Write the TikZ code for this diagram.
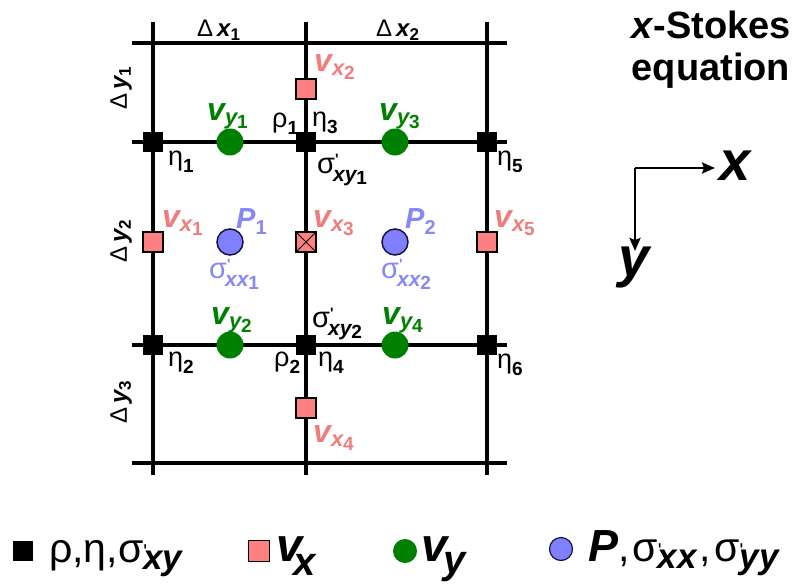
\documentclass[tikz,border=0pt]{standalone}
\usepackage{fontspec}
\setmainfont{Liberation Sans}
\usetikzlibrary{arrows.meta}
\definecolor{vxfill}{RGB}{255,128,128}
\definecolor{vxtext}{RGB}{240,125,125}
\definecolor{vygreen}{RGB}{0,128,0}
\definecolor{pfill}{RGB}{128,128,255}
\definecolor{ptext}{RGB}{135,135,245}
\definecolor{pedge}{RGB}{20,20,70}
\newcommand\vlab[2]{{\fontsize{32}{32}\selectfont\bfseries\itshape v\raisebox{-4pt}{\fontsize{22}{22}\selectfont #1\raisebox{-4pt}{\fontsize{19}{19}\selectfont\upshape #2}}}}
\newcommand\plab[1]{{\fontsize{29}{29}\selectfont\bfseries\itshape P\raisebox{-6pt}{\fontsize{20}{20}\selectfont\upshape #1}}}
\newcommand\glab[2]{{\fontsize{27}{27}\selectfont #1\raisebox{-7pt}{\fontsize{19}{19}\selectfont\bfseries #2}}}
\newcommand\slab[2]{{\fontsize{29}{29}\selectfont σ\rlap{\raisebox{9pt}{\fontsize{15}{15}\selectfont\bfseries \textquotesingle}}\hspace{-2pt}\raisebox{-8pt}{\fontsize{21}{21}\selectfont\bfseries\itshape #1\raisebox{-3pt}{\fontsize{19}{19}\selectfont\upshape #2}}}}
\newcommand\dlab[2]{{\fontsize{24}{24}\selectfont Δ\,\bfseries\itshape #1\raisebox{-4pt}{\fontsize{17}{17}\selectfont\upshape #2}}}
\newcommand\legprime{\rlap{\raisebox{4pt}{\fontsize{20}{20}\selectfont\textquotesingle}}}
\newcommand\legsub[1]{\raisebox{-7pt}{\fontsize{35}{35}\selectfont\bfseries\itshape #1}}
\tikzset{
  gridline/.style={line width=3.2pt},
  blk/.style={rectangle, fill=black, minimum size=20pt, inner sep=0pt},
  vxbox/.style={rectangle, fill=vxfill, draw=black, line width=1.2pt, minimum size=20pt, inner sep=0pt},
  vxcross/.style={vxbox, path picture={\draw[line width=1pt]
      (path picture bounding box.north west) -- (path picture bounding box.south east)
      (path picture bounding box.north east) -- (path picture bounding box.south west);}},
  vydot/.style={circle, fill=vygreen, minimum size=27pt, inner sep=0pt},
  pdot/.style={circle, fill=pfill, draw=pedge, line width=1.5pt, minimum size=26pt, inner sep=0pt},
  lbl/.style={inner sep=0pt, anchor=base west},
  vxl/.style={lbl, text=vxtext},
  vyl/.style={lbl, text=vygreen},
  pl/.style={lbl, text=ptext},
  kl/.style={lbl, text=black},
  axis/.style={line width=2.5pt, -{Stealth[length=13pt,width=11pt,inset=2pt]}},
}
\begin{document}
\begin{tikzpicture}[x=1pt,y=-1pt]
\useasboundingbox (0,0) rectangle (802,586);
% grid end points
\coordinate (c1t) at (153,22);  \coordinate (c1b) at (153,475);
\coordinate (c2t) at (306,22);  \coordinate (c2b) at (306,475);
\coordinate (c3t) at (487,22);  \coordinate (c3b) at (487,475);
\coordinate (r1l) at (132,43);  \coordinate (r1r) at (507,43);
\coordinate (r2l) at (132,142); \coordinate (r2r) at (507,142);
\coordinate (r3l) at (132,345); \coordinate (r3r) at (507,345);
\coordinate (r4l) at (132,463); \coordinate (r4r) at (507,463);
\draw[gridline] (c1t) -- (c1b) (c2t) -- (c2b) (c3t) -- (c3b);
\draw[gridline] (r1l) -- (r1r) (r2l) -- (r2r) (r3l) -- (r3r) (r4l) -- (r4r);
% black nodes
\node[blk] (n1) at (153,142) {};
\node[blk] (n3) at (306,142) {};
\node[blk] (n5) at (487,142) {};
\node[blk] (n2) at (153,345) {};
\node[blk] (n4) at (306,345) {};
\node[blk] (n6) at (487,345) {};
% vx nodes
\node[vxbox] (vx2) at (306,89) {};
\node[vxbox] (vx1) at (153,242) {};
\node[vxcross] (vx3) at (306,242) {};
\node[vxbox] (vx5) at (487,242) {};
\node[vxbox] (vx4) at (306,408) {};
% vy nodes
\node[vydot] (vy1) at (230,142) {};
\node[vydot] (vy3) at (395,142) {};
\node[vydot] (vy2) at (230,345) {};
\node[vydot] (vy4) at (395,345) {};
% P nodes
\node[pdot] (p1) at (230,242) {};
\node[pdot] (p2) at (395,242) {};
% spacing labels
\node[kl] (dx1) at (197,37) {\dlab{x}{1}};
\node[kl] (dx2) at (376,37) {\dlab{x}{2}};
\node[inner sep=0pt, rotate=90] (dy1) at (121,88) {\dlab{y}{1}};
\node[inner sep=0pt, rotate=90] (dy2) at (121,241) {\dlab{y}{2}};
\node[inner sep=0pt, rotate=90] (dy3) at (121,402) {\dlab{y}{3}};
% vx labels
\node[vxl] (lvx2) at (314,71) {\vlab{x}{2}};
\node[vxl] (lvx1) at (162,227) {\vlab{x}{1}};
\node[vxl] (lvx3) at (313,227) {\vlab{x}{3}};
\node[vxl] (lvx5) at (494,227) {\vlab{x}{5}};
\node[vxl] (lvx4) at (313,442) {\vlab{x}{4}};
% vy labels
\node[vyl] (lvy1) at (207,120) {\vlab{y}{1}};
\node[vyl] (lvy3) at (379,120) {\vlab{y}{3}};
\node[vyl] (lvy2) at (211,324) {\vlab{y}{2}};
\node[vyl] (lvy4) at (382,324) {\vlab{y}{4}};
% P labels
\node[pl] (lp1) at (236,228) {\plab{1}};
\node[pl] (lp2) at (405,228) {\plab{2}};
\node[pl] (lsxx1) at (209,278) {\slab{xx}{1}};
\node[pl] (lsxx2) at (381,278) {\slab{xx}{2}};
% black labels
\node[kl] (leta1) at (168,165) {\glab{η}{1}};
\node[kl] (lrho1) at (272,127) {\glab{ρ}{1}};
\node[kl] (leta3) at (312,126) {\glab{η}{3}};
\node[kl] (leta5) at (497,165) {\glab{η}{5}};
\node[kl] (lsxy1) at (317,173) {\slab{xy}{1}};
\node[kl] (lsxy2) at (312,327) {\slab{xy}{2}};
\node[kl] (leta2) at (168,366) {\glab{η}{2}};
\node[kl] (lrho2) at (274,366) {\glab{ρ}{2}};
\node[kl] (leta4) at (318,366) {\glab{η}{4}};
\node[kl] (leta6) at (497,368) {\glab{η}{6}};
% title
\node[anchor=base, inner sep=0pt, font=\fontsize{38}{38}\selectfont\bfseries] (title1) at (711,38) {\textit{x}-Stokes};
\node[anchor=base, inner sep=0pt, font=\fontsize{38}{38}\selectfont\bfseries] (title2) at (711,81) {equation};
% axes
\coordinate (origin) at (635,168);
\coordinate (xend) at (715,168);
\coordinate (yend) at (635,251);
\draw[axis] (origin) -- (xend);
\draw[axis] (origin) -- (yend);
\node[inner sep=0pt, font=\fontsize{56}{56}\selectfont\bfseries\itshape] (xlab) at (735,166) {x};
\node[inner sep=0pt, font=\fontsize{56}{56}\selectfont\bfseries\itshape] (ylab) at (634,268) {y};
% legend
\node[blk] (lgk) at (23,551) {};
\node[lbl] (lgkt) at (49,562) {\fontsize{41}{41}\selectfont ρ,η,σ\legprime\legsub{xy}};
\node[vxbox, minimum size=21pt] (lgx) at (259,551) {};
\node[lbl] (lgxt) at (276,561) {\fontsize{47}{47}\selectfont\bfseries\itshape v\hspace{-9pt}\raisebox{-14pt}{\fontsize{40}{40}\selectfont x}};
\node[vydot, minimum size=24pt] (lgy) at (405,551) {};
\node[lbl] (lgyt) at (421,561) {\fontsize{47}{47}\selectfont\bfseries\itshape v\hspace{-4pt}\raisebox{-12pt}{\fontsize{40}{40}\selectfont y}};
\node[pdot, minimum size=23pt, line width=1.2pt] (lgp) at (561,549) {};
\node[lbl] (lgpt) at (588,561) {\fontsize{45}{45}\selectfont\bfseries\itshape P\upshape\mdseries\fontsize{41}{41}\selectfont,\hspace{3pt}σ\legprime\legsub{xx}\hspace{3pt},\hspace{3pt}σ\legprime\legsub{yy}};
\end{tikzpicture}
\end{document}
